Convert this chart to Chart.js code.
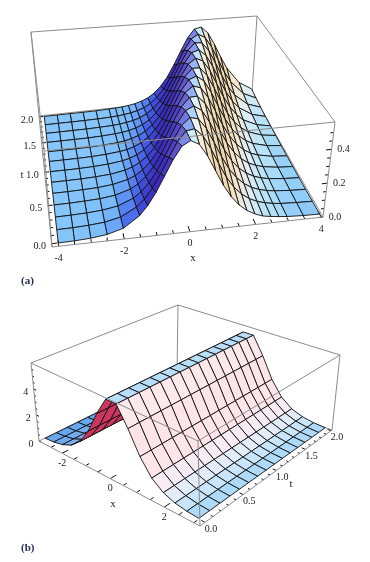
<!DOCTYPE html>
<html>
<head>
<meta charset="utf-8">
<script src="https://cdn.jsdelivr.net/npm/chart.js@4/dist/chart.umd.js"></script>
<style>
body { margin: 0; background: #fff; }
canvas { position: absolute; left: 0; }
</style>
</head>
<body>
<canvas id="chartA" width="370" height="290" style="top:0"></canvas>
<canvas id="chartB" width="370" height="272" style="top:290px"></canvas>
<script>
// panel (a): travelling ridge, rows are t, columns are x
var aX = [-4, -3.5, -3, -2.5, -2, -1.5, -1.25, -1, -0.75, -0.5, -0.25, 0, 0.25, 0.5, 0.75, 1, 1.25, 1.5, 1.75, 2, 2.25, 2.5, 2.75, 3, 3.5, 4];
var aT = [0, 0.167, 0.333, 0.5, 0.667, 0.833, 1, 1.167, 1.333, 1.5, 1.667, 1.833, 2];
var aZ = [
  [0, .002, .007, .018, .044, .108, .162, .235, .325, .418, .492, .520, .492, .418, .325, .235, .162, .108, .070, .044, .026, .018, .012, .007, .002, 0],
  [0, .001, .005, .013, .033, .082, .125, .186, .266, .359, .449, .508, .516, .469, .386, .292, .206, .140, .093, .060, .038, .024, .015, .009, .004, .001],
  [0, .001, .004, .010, .025, .062, .096, .145, .212, .299, .392, .475, .518, .505, .442, .352, .259, .180, .121, .079, .050, .032, .020, .013, .005, .001],
  [0, 0, .003, .007, .018, .046, .072, .112, .167, .242, .332, .425, .496, .520, .487, .411, .318, .229, .157, .104, .068, .043, .027, .017, .007, .002],
  [0, 0, .002, .005, .014, .035, .054, .085, .129, .191, .274, .367, .455, .511, .514, .463, .378, .284, .200, .136, .089, .057, .037, .023, .009, .003],
  [0, 0, .001, .004, .010, .026, .041, .064, .099, .149, .219, .306, .400, .480, .519, .502, .435, .344, .252, .175, .117, .076, .048, .031, .012, .005],
  [0, 0, 0, .003, .008, .019, .030, .047, .075, .115, .172, .249, .340, .432, .500, .519, .483, .404, .310, .222, .152, .101, .065, .041, .016, .006],
  [0, 0, 0, .002, .006, .015, .022, .036, .056, .088, .133, .197, .281, .374, .460, .513, .512, .458, .371, .277, .194, .131, .086, .055, .022, .009],
  [0, 0, 0, .001, .004, .010, .017, .027, .042, .066, .103, .154, .225, .314, .407, .485, .520, .498, .428, .336, .245, .170, .113, .073, .030, .012],
  [0, 0, 0, 0, .003, .008, .012, .020, .032, .049, .077, .119, .178, .256, .348, .438, .504, .519, .477, .397, .302, .216, .147, .097, .040, .016],
  [0, 0, 0, 0, .002, .005, .009, .015, .023, .037, .058, .091, .138, .203, .288, .382, .466, .515, .510, .452, .363, .270, .189, .127, .053, .021],
  [0, 0, 0, 0, .001, .004, .007, .011, .018, .028, .043, .069, .106, .159, .232, .321, .414, .490, .520, .494, .421, .329, .238, .165, .071, .029],
  [0, 0, 0, 0, 0, .003, .005, .008, .013, .020, .033, .051, .080, .123, .183, .263, .355, .445, .507, .517, .472, .389, .295, .209, .094, .038]
];
var aXTicks = [-4, -2, 0, 2, 4];
var aXLabels = ['-4', '-2', '0', '2', '4'];
var aXMinor = [-3.5, -3, -2.5, -1.5, -1, -0.5, 0.5, 1, 1.5, 2.5, 3, 3.5];
var aTTicks = [0, 0.5, 1, 1.5, 2];
var aTLabels = ['0.0', '0.5', '1.0', '1.5', '2.0'];
var aTMinor = [0.1, 0.2, 0.3, 0.4, 0.6, 0.7, 0.8, 0.9, 1.1, 1.2, 1.3, 1.4, 1.6, 1.7, 1.8, 1.9];
var aZTicks = [0, 0.2, 0.4];
var aZLabels = ['0.0', '0.2', '0.4'];
var aZMinor = [0.05, 0.1, 0.15, 0.25, 0.3, 0.35, 0.45, 0.5];

// panel (b): standing ridge, the same cross section at every t
var bX = [-3, -2.6, -2.2, -1.8, -1.4, -1, -0.6, -0.2, 0.2, 0.6, 1, 1.4, 1.8, 2.2, 2.6, 3];
var bT = [0, 0.133, 0.267, 0.4, 0.533, 0.667, 0.8, 0.933, 1.067, 1.2, 1.333, 1.467, 1.6, 1.733, 1.867, 2];
var bProfile = [0.06, 0.12, 0.27, 0.59, 1.23, 2.39, 4.06, 5.5, 5.5, 4.06, 2.39, 1.23, 0.59, 0.27, 0.12, 0.06];
var bXTicks = [-2, 0, 2];
var bXLabels = ['-2', '0', '2'];
var bXMinor = [-2.5, -1.5, -1, -0.5, 0.5, 1, 1.5, 2.5, 3];
var bTTicks = [0, 0.5, 1, 1.5, 2];
var bTLabels = ['0.0', '0.5', '1.0', '1.5', '2.0'];
var bTMinor = [0.1, 0.2, 0.3, 0.4, 0.6, 0.7, 0.8, 0.9, 1.1, 1.2, 1.3, 1.4, 1.6, 1.7, 1.8, 1.9];
var bZTicks = [0, 2, 4];
var bZLabels = ['0', '2', '4'];
var bZMinor = [0.5, 1, 1.5, 2.5, 3, 3.5, 4.5, 5, 5.5];

var panelA = {
  canvas: 'chartA', yMin: 0, yMax: 290,
  xs: aX, ts: aT, zs: aZ,
  xRange: [-4.2, 4.05], tRange: [-0.04, 2.02], zRange: [0, 0.562],
  // screen corners, [x index][t index][z index]
  corners: [[[[52, 247], [44, 151]], [[39, 116], [31, 32]]],
            [[[323, 217], [335, 122]], [[252, 93], [257, 16]]]],
  xWeight: 1, tWeight: 1.3,
  nearLowX: true,
  lineWidth: 0.9,
  ramp: [[-0.34, 238, 214, 170], [-0.2, 246, 230, 205], [-0.1, 222, 238, 246], [-0.03, 176, 224, 246], [0, 134, 198, 250],
         [0.03, 120, 184, 250], [0.07, 90, 140, 245], [0.15, 65, 85, 225], [0.3, 55, 40, 190]],
  crestGlow: 0.55, backColor: 'rgb(120,90,200)',
  axes: [
    { ticks: aXTicks, labels: aXLabels, minor: aXMinor, at: function(v, p) { return [v, p.tRange[0], 0]; }, dir: [0, 1, 0], len: 0.07, dx: 0, dy: 12 },
    { ticks: aTTicks, labels: aTLabels, minor: aTMinor, at: function(v, p) { return [p.xRange[0], v, 0]; }, dir: [1, 0, 0], len: 0.16, dx: -12, dy: 3 },
    { ticks: aZTicks, labels: aZLabels, minor: aZMinor, at: function(v, p) { return [p.xRange[1], p.tRange[0], v]; }, dir: [-1, 0, 0], len: 0.16, dx: 12, dy: 0 }
  ],
  titles: [['x', 193, 258], ['t', 22, 175]],
  caption: ['(a)', 21, 281]
};

var panelB = {
  canvas: 'chartB', yMin: 290, yMax: 562,
  xs: bX, ts: bT, zs: bT.map(function() { return bProfile; }),
  xRange: [-3.05, 3.2], tRange: [-0.06, 2.02], zRange: [0, 6],
  corners: [[[[39, 441], [31, 363]], [[177, 373], [178, 305]]],
            [[[200, 526], [198, 441]], [[332, 430], [340, 355]]]],
  xWeight: 1.2, tWeight: 1.32,
  nearLowX: false,
  lineWidth: 0.9,
  ramp: [[-4.5, 253, 226, 230], [-2.5, 253, 230, 234], [-1.2, 246, 238, 248], [-0.5, 214, 234, 250], [-0.2, 180, 222, 248], [0, 146, 206, 246],
         [0.1, 100, 168, 240], [0.5, 120, 172, 240], [4.5, 205, 230, 250]],
  crestGlow: 0.5, backColor: 'rgb(205,55,95)',
  axes: [
    { ticks: bXTicks, labels: bXLabels, minor: bXMinor, at: function(v, p) { return [v, p.tRange[0], 0]; }, dir: [0, 1, 0], len: 0.07, dx: 0, dy: 10 },
    { ticks: bTTicks, labels: bTLabels, minor: bTMinor, at: function(v, p) { return [p.xRange[1], v, 0]; }, dir: [-1, 0, 0], len: 0.12, dx: 6, dy: 7 },
    { ticks: bZTicks, labels: bZLabels, minor: bZMinor, at: function(v, p) { return [p.xRange[0], p.tRange[0], v]; }, dir: [1, 0, 0], len: 0.12, dx: -8, dy: 3 }
  ],
  titles: [['x', 113, 504], ['t', 291, 484]],
  caption: ['(b)', 21, 548]
};

// perspective box: blend the 8 screen corners, far corners get more weight
function project(p, x, t, z) {
  var u = (x - p.xRange[0]) / (p.xRange[1] - p.xRange[0]);
  var v = (t - p.tRange[0]) / (p.tRange[1] - p.tRange[0]);
  var w = (z - p.zRange[0]) / (p.zRange[1] - p.zRange[0]);
  var sx = 0, sy = 0, sw = 0;
  for (var i = 0; i < 2; i++) {
    for (var j = 0; j < 2; j++) {
      for (var k = 0; k < 2; k++) {
        var b = (i ? u : 1 - u) * (j ? v : 1 - v) * (k ? w : 1 - w);
        b *= (i ? 1 : p.xWeight) * (j ? p.tWeight : 1);
        sx += b * p.corners[i][j][k][0];
        sy += b * p.corners[i][j][k][1];
        sw += b;
      }
    }
  }
  return { x: sx / sw, y: sy / sw };
}

function rampColor(ramp, s, glow) {
  var c = ramp[ramp.length - 1];
  if (s <= ramp[0][0]) c = ramp[0];
  else {
    for (var i = 1; i < ramp.length; i++) {
      if (s <= ramp[i][0]) {
        var f = (s - ramp[i - 1][0]) / (ramp[i][0] - ramp[i - 1][0]);
        c = [0];
        for (var n = 1; n < 4; n++) c.push(ramp[i - 1][n] + f * (ramp[i][n] - ramp[i - 1][n]));
        break;
      }
    }
  }
  return 'rgb(' + [1, 2, 3].map(function(n) { return Math.round(c[n] + (255 - c[n]) * glow); }).join(',') + ')';
}

function lineSet(points, color, width, fillColor) {
  return {
    data: points,
    showLine: true,
    borderColor: color,
    borderWidth: width,
    backgroundColor: fillColor || 'transparent',
    fill: fillColor ? 'shape' : false,
    pointRadius: 0,
    tension: 0
  };
}

function surfaceSets(p) {
  var sets = [];
  var peak = p.zRange[1];
  for (var k = 0; k < p.ts.length - 1; k++) {
    for (var n = 0; n < p.xs.length - 1; n++) {
      var j = p.nearLowX ? n : p.xs.length - 2 - n;
      var z00 = p.zs[k][j], z01 = p.zs[k][j + 1], z10 = p.zs[k + 1][j], z11 = p.zs[k + 1][j + 1];
      var q = [project(p, p.xs[j], p.ts[k], z00), project(p, p.xs[j + 1], p.ts[k], z01),
               project(p, p.xs[j + 1], p.ts[k + 1], z11), project(p, p.xs[j], p.ts[k + 1], z10)];
      var area = 0;
      for (var a = 0; a < 4; a++) area += q[a].x * q[(a + 1) % 4].y - q[(a + 1) % 4].x * q[a].y;
      var slope = ((z01 - z00) + (z11 - z10)) / 2 / (p.xs[j + 1] - p.xs[j]);
      var height = (z00 + z01 + z10 + z11) / 4 / peak;
      var fillColor = area > 0 ? p.backColor : rampColor(p.ramp, slope, p.crestGlow * Math.pow(height, 4));
      sets.push(lineSet(q.concat([q[0]]), '#111', p.lineWidth, fillColor));
    }
  }
  return sets;
}

function edge(p, a, b) {
  return lineSet([project(p, a[0], a[1], a[2]), project(p, b[0], b[1], b[2])], '#8c8c8c', 1);
}

function boxEdges(p, front) {
  var x0 = p.xRange[0], x1 = p.xRange[1], t0 = p.tRange[0], t1 = p.tRange[1], z0 = p.zRange[0], z1 = p.zRange[1];
  if (front) {
    return [edge(p, [x0, t0, z1], [x1, t0, z1]), edge(p, [x0, t0, z0], [x0, t0, z1]), edge(p, [x1, t0, z0], [x1, t0, z1]),
            edge(p, [x0, t0, z1], [x0, t1, z1]), edge(p, [x1, t0, z1], [x1, t1, z1]),
            edge(p, [x0, t0, z0], [x1, t0, z0]), edge(p, p.nearLowX ? [x0, t0, z0] : [x1, t0, z0], p.nearLowX ? [x0, t1, z0] : [x1, t1, z0])];
  }
  return [edge(p, [x0, t1, z1], [x1, t1, z1]), edge(p, [x0, t1, z0], [x0, t1, z1]), edge(p, [x1, t1, z0], [x1, t1, z1]),
          edge(p, [x0, t1, z0], [x1, t1, z0]), edge(p, p.nearLowX ? [x1, t0, z0] : [x0, t0, z0], p.nearLowX ? [x1, t1, z0] : [x0, t1, z0])];
}

function tickSets(p) {
  var sets = [];
  p.axes.forEach(function(ax) {
    function add(v, len) {
      var s = ax.at(v, p);
      var e = [s[0] + ax.dir[0] * len, s[1] + ax.dir[1] * len, s[2] + ax.dir[2] * len];
      sets.push(lineSet([project(p, s[0], s[1], s[2]), project(p, e[0], e[1], e[2])], '#111', 1));
    }
    ax.ticks.forEach(function(v) { add(v, ax.len); });
    ax.minor.forEach(function(v) { add(v, ax.len * 0.6); });
  });
  return sets;
}

function textPlugin(p) {
  return {
    id: 'boxText',
    afterDraw: function(chart) {
      var ctx = chart.ctx;
      var sx = chart.scales.x, sy = chart.scales.y;
      ctx.save();
      ctx.fillStyle = '#222';
      ctx.textAlign = 'center';
      ctx.textBaseline = 'middle';
      ctx.font = '10px "Liberation Serif"';
      p.axes.forEach(function(ax) {
        ax.ticks.forEach(function(v, i) {
          var s = ax.at(v, p);
          var pt = project(p, s[0], s[1], s[2]);
          ctx.fillText(ax.labels[i], sx.getPixelForValue(pt.x + ax.dx), sy.getPixelForValue(pt.y + ax.dy));
        });
      });
      ctx.font = '11px "Liberation Serif"';
      p.titles.forEach(function(t) {
        ctx.fillText(t[0], sx.getPixelForValue(t[1]), sy.getPixelForValue(t[2]));
      });
      ctx.font = 'bold 11px "Liberation Serif"';
      ctx.fillStyle = '#1c2a52';
      ctx.textAlign = 'left';
      ctx.fillText(p.caption[0], sx.getPixelForValue(p.caption[1]), sy.getPixelForValue(p.caption[2]));
      ctx.restore();
    }
  };
}

function makePanel(p) {
  // first dataset ends up on top, so nearest things go first
  var sets = boxEdges(p, true).concat(tickSets(p), surfaceSets(p), boxEdges(p, false));
  return new Chart(document.getElementById(p.canvas), {
    type: 'scatter',
    data: { datasets: sets },
    options: {
      responsive: false,
      animation: false,
      events: [],
      layout: { padding: 0 },
      scales: {
        x: { type: 'linear', min: 0, max: 370, display: false },
        y: { type: 'linear', min: p.yMin, max: p.yMax, reverse: true, display: false }
      },
      plugins: {
        legend: { display: false },
        tooltip: { enabled: false }
      }
    },
    plugins: [textPlugin(p)]
  });
}

makePanel(panelA);
makePanel(panelB);
</script>
</body>
</html>
